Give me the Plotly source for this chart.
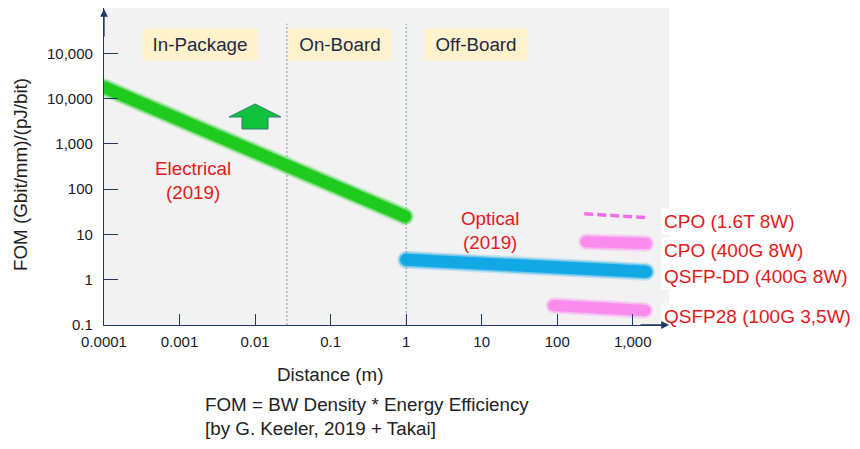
import plotly.graph_objects as go

# values
electrical_x = [0.0001, 0.97]
electrical_y = [17800, 25]

qsfpdd_x = [1, 1500]
qsfpdd_y = [2.75, 1.5]

cpo400_x = [242, 1500]
cpo400_y = [6.9, 6.3]

cpo16_x = [228, 1600]
cpo16_y = [28.5, 23.5]

qsfp28_x = [90, 1450]
qsfp28_y = [0.27, 0.21]

region_bounds = [0.0264, 1]
region_names = ["In-Package", "On-Board", "Off-Board"]
series_labels = ["CPO (1.6T 8W)", "CPO (400G 8W)", "QSFP-DD (400G 8W)", "QSFP28 (100G 3,5W)"]

x_tickvals = [0.0001, 0.001, 0.01, 0.1, 1, 10, 100, 1000]
x_ticktext = ["0.0001", "0.001", "0.01", "0.1", "1", "10", "100", "1,000"]
y_tickvals = [0.1, 1, 10, 100, 1000, 10000, 100000]
y_ticktext = ["0.1", "1", "10", "100", "1,000", "10,000", "10,000"]

FONT = "Liberation Sans, Arial, sans-serif"
NAVY = "#1F3864"
RED = "#E31A1C"
GREEN = "#1FCB1F"
BLUE = "#12A8E6"
PINK = "#FA8CEE"

# page body has an 8px margin, so the figure is drawn 8px smaller
BODY = 8
W, H = 860 - BODY, 449 - BODY
# plot area in screen pixels
L, R, T, B = 104, 669, 8, 325


def paper(x, y):
    return (x - L) / (R - L), (B - y) / (B - T)


fig = go.Figure()


def band(x, y, color, width):
    # soft edged thick stroke with round ends
    for w, op in [(width + 6, 0.2), (width + 3, 0.45), (width, 1.0)]:
        fig.add_trace(go.Scatter(
            x=x, y=y, mode="lines+markers", opacity=op,
            line=dict(color=color, width=w),
            marker=dict(size=w, color=color, line_width=0),
            hoverinfo="skip", showlegend=False,
        ))


for b in region_bounds:
    fig.add_trace(go.Scatter(
        x=[b, b], y=[0.1, 4.5e5], mode="lines",
        line=dict(color="#7F96C8", width=1, dash="2px,2px"),
        hoverinfo="skip", showlegend=False,
    ))

band(electrical_x, electrical_y, GREEN, 12)
band(qsfpdd_x, qsfpdd_y, BLUE, 12)
band(cpo400_x, cpo400_y, PINK, 11)
band(qsfp28_x, qsfp28_y, PINK, 11)
fig.add_trace(go.Scatter(
    x=cpo16_x, y=cpo16_y, mode="lines",
    line=dict(color="#EE6FE6", width=3.5, dash="9px,4px"),
    hoverinfo="skip", showlegend=False,
))

ann = []


def text(x, y, s, size=18.8, color="#222", **kw):
    px, py = paper(x, y)
    d = dict(x=px, y=py, xref="paper", yref="paper", text=s, showarrow=False,
             xanchor="center", yanchor="middle",
             font=dict(family=FONT, size=size, color=color))
    d.update(kw)
    ann.append(d)


# region headers
for name, cx, w in zip(region_names, [200, 340, 476], [104, 92, 92]):
    text(cx, 44.5, name, color="#1F2A44", bgcolor="#FFF2CC", borderpad=5, width=w)

text(193, 180.5, "Electrical<br>(2019)", color=RED)
text(490, 230, "Optical<br>(2019)", color=RED)

for s, cy in zip(series_labels, [221, 250, 276, 316]):
    text(661, cy, s, size=19, color=RED, xanchor="left", bgcolor="white", borderpad=2)

text(330, 374, "Distance (m)")
text(203, 416, "FOM = BW Density * Energy Efficiency<br>[by G. Keeler, 2019 + Takai]",
     xanchor="left", align="left")
text(20, 175, "FOM (Gbit/mm)/(pJ/bit)", textangle=-90)

# axis arrow heads
ann.append(dict(x=0, y=1, xref="paper", yref="paper", ax=0, ay=30, text="",
                showarrow=True, arrowhead=2, arrowsize=1.2, arrowwidth=1.3,
                arrowcolor=NAVY))
ann.append(dict(x=1, y=0, xref="paper", yref="paper", ax=-30, ay=0, text="",
                showarrow=True, arrowhead=2, arrowsize=1.2, arrowwidth=1.3,
                arrowcolor=NAVY))

# green "up" arrow
pts = [(255, 104), (281, 117), (268, 117), (268, 129), (242, 129), (242, 117), (229, 117)]
path = "M " + " L ".join(f"{paper(x, y)[0]:.4f},{paper(x, y)[1]:.4f}" for x, y in pts) + " Z"
shapes = [dict(type="path", xref="paper", yref="paper", path=path,
               fillcolor="#12C23C", line=dict(color="#2E7D6B", width=1))]

fig.update_layout(
    width=W, height=H,
    margin=dict(l=L - BODY, r=W - (R - BODY), t=T - BODY, b=H - (B - BODY), autoexpand=False),
    paper_bgcolor="white", plot_bgcolor="#F2F2F2",
    font=dict(family=FONT, size=15, color="#1a1a1a"),
    annotations=ann, shapes=shapes,
    xaxis=dict(type="log", range=[-4, 3.48], tickvals=x_tickvals, ticktext=x_ticktext,
               ticks="inside", ticklen=11, tickcolor=NAVY, showgrid=False, zeroline=False,
               showline=True, linecolor=NAVY, linewidth=1.3, ticklabelstandoff=3),
    yaxis=dict(type="log", range=[-1, 6.0], tickvals=y_tickvals, ticktext=y_ticktext,
               ticks="inside", ticklen=14, tickcolor=NAVY, showgrid=False, zeroline=False,
               showline=True, linecolor=NAVY, linewidth=1.3, ticklabelstandoff=7),
)

fig.write_html("out.html")
